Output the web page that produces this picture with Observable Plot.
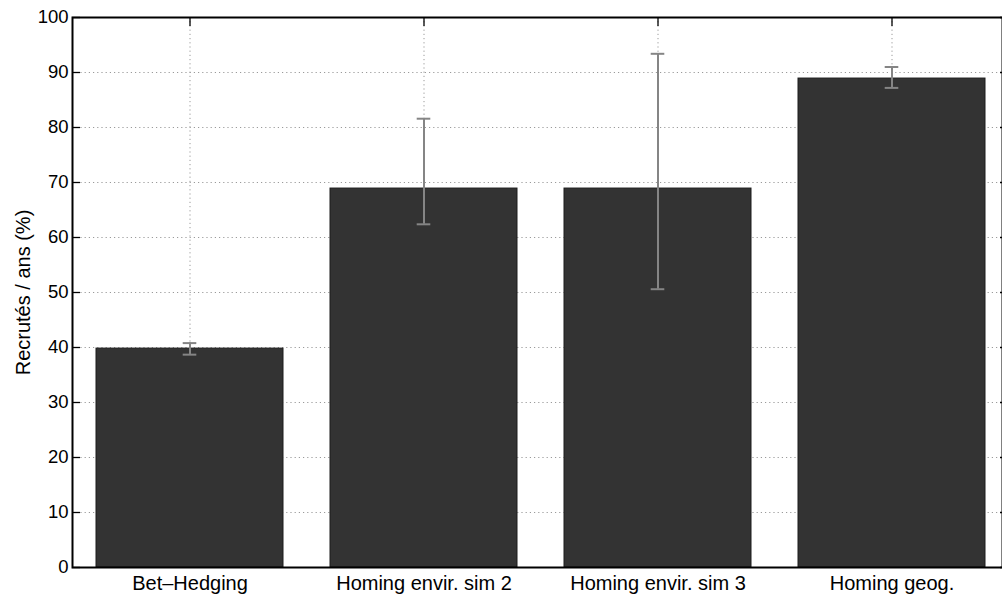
<!DOCTYPE html>
<html>
<head>
<meta charset="utf-8">
<script src="https://cdn.jsdelivr.net/npm/d3@7"></script>
<script src="https://cdn.jsdelivr.net/npm/@observablehq/plot@0.6"></script>
<style>
  html, body { margin: 0; padding: 0; background: #fff; overflow: hidden; }
  #chart svg { display: block; }
</style>
</head>
<body>
<div id="chart"></div>
<script>
const categories = ["Bet\u2013Hedging", "Homing envir. sim 2", "Homing envir. sim 3", "Homing geog."];
const values = [39.8, 68.9, 68.9, 88.9];
const errLow = [38.7, 62.4, 50.6, 87.2];
const errHigh = [40.8, 81.6, 93.4, 91.0];
const yTicks = [0, 10, 20, 30, 40, 50, 60, 70, 80, 90, 100];
const gridTicks = [10, 20, 30, 40, 50, 60, 70, 80, 90];
const yLabel = "Recrutés / ans (%)";

const data = categories.map((c, i) => ({cat: c, v: values[i], lo: errLow[i], hi: errHigh[i]}));
const font = "Liberation Sans, Arial, Helvetica, sans-serif";

const chart = Plot.plot({
  width: 1002,
  height: 595,
  marginLeft: 72,
  marginRight: 0,
  marginTop: 17,
  marginBottom: 28,
  style: {fontFamily: font, background: "#fff", color: "#000"},
  x: {type: "band", domain: categories, range: [72, 1009], paddingInner: 0.2, paddingOuter: 0.1, label: null},
  y: {domain: [0, 100], label: null},
  marks: [
    Plot.ruleY(gridTicks, {stroke: "#9a9a9a", strokeWidth: 1, strokeDasharray: "1.2,3"}),
    Plot.ruleX(categories, {stroke: "#9a9a9a", strokeWidth: 1, strokeDasharray: "1.2,3"}),
    Plot.barY(data, {x: "cat", y: "v", fill: "#333333", stroke: "#1c1c1c", strokeWidth: 1}),
    Plot.ruleX(data, {x: "cat", y1: "lo", y2: "hi", stroke: "#858585", strokeWidth: 2}),
    Plot.tickY(data, {x: "cat", y: "lo", stroke: "#858585", strokeWidth: 2, insetLeft: 86.7, insetRight: 86.7}),
    Plot.tickY(data, {x: "cat", y: "hi", stroke: "#858585", strokeWidth: 2, insetLeft: 86.7, insetRight: 86.7}),
    Plot.ruleY(yTicks, {stroke: "#000", strokeWidth: 1.3, insetRight: 922}),
    Plot.ruleY(yTicks, {stroke: "#000", strokeWidth: 1.3, insetLeft: 928}),
    Plot.ruleX(categories, {stroke: "#000", strokeWidth: 1.3, insetBottom: 541}),
    Plot.frame({stroke: "#000", strokeWidth: 2}),
    Plot.axisY({ticks: yTicks, tickSize: 0, tickPadding: 4, fontSize: 18.5, label: null, tickFormat: d => String(d)}),
    Plot.axisX({tickSize: 0, tickPadding: 8, fontSize: 20, label: null}),
    Plot.text([yLabel], {frameAnchor: "left", text: d => d, rotate: -90, textAnchor: "middle", lineAnchor: "middle", dx: -49, dy: 0, fontSize: 20, fill: "#000"})
  ]
});
document.getElementById("chart").appendChild(chart);
</script>
</body>
</html>
